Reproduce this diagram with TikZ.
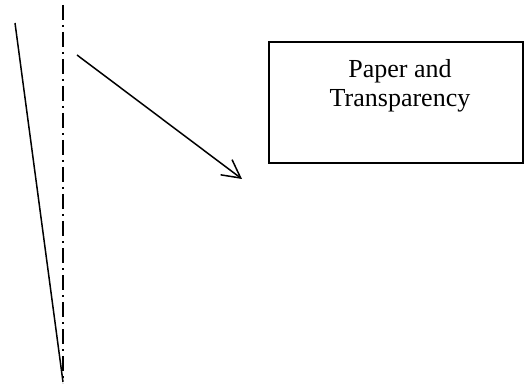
\documentclass[tikz,border=0pt]{standalone}
\usepackage{fontspec}
\setmainfont{Liberation Serif}
\usetikzlibrary{arrows.meta}
\begin{document}
\begin{tikzpicture}[x=1pt,y=1pt,
  thinline/.style={line width=1.5pt, line cap=butt},
  dashdotline/.style={line width=1.5pt, dash pattern=on 15pt off 5pt on 2pt off 5pt},
  boxstyle/.style={draw, line width=1.5pt, minimum width=254pt, minimum height=121pt, inner sep=0pt},
  labelstyle/.style={align=center, inner sep=0pt, font=\fontsize{26}{29}\selectfont}]
\useasboundingbox (0,0) rectangle (524,383);
\coordinate (s1) at (15,360);
\coordinate (s2) at (63,1);
\coordinate (d1) at (63,378);
\coordinate (d2) at (63,0);
\coordinate (a1) at (77,328);
\coordinate (a2) at (242,204);
\draw[thinline] (s1) -- (s2);
\draw[dashdotline] (d1) -- (d2);
\draw[thinline, -{Straight Barb[length=18pt,width=19pt,line width=1.5pt]}] (a1) -- (a2);
\node[boxstyle] (box) at (396,280.5) {};
\node[labelstyle, anchor=north] (lbl) at (400,323.5) {Paper and\\Transparency};
\end{tikzpicture}
\end{document}
